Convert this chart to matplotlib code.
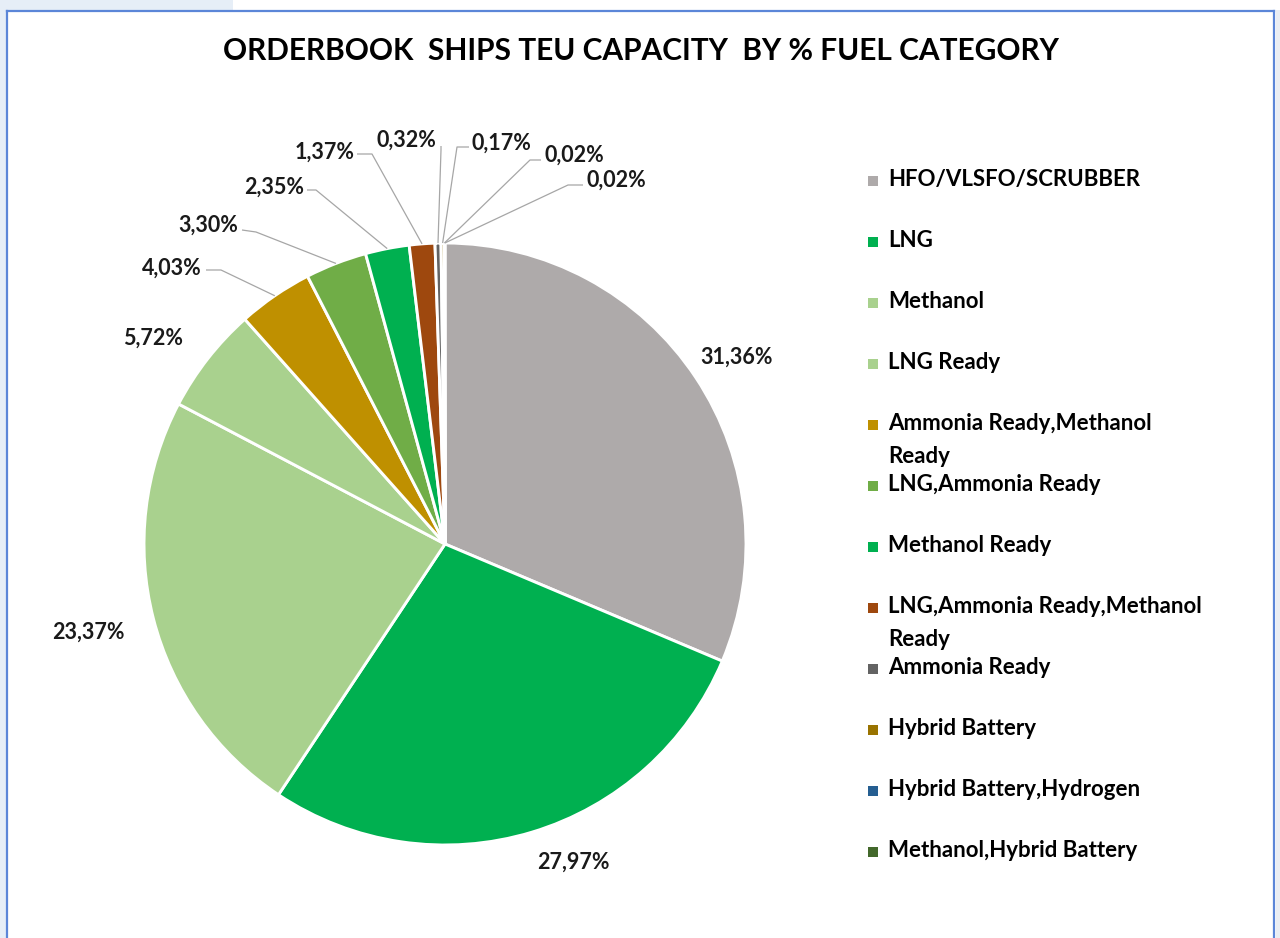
import matplotlib
matplotlib.use("Agg")
import matplotlib.pyplot as plt
from matplotlib.patches import Rectangle
import math

# ---------------- data ----------------
categories = [
    "HFO/VLSFO/SCRUBBER", "LNG", "Methanol", "LNG Ready",
    "Ammonia Ready,Methanol Ready", "LNG,Ammonia Ready", "Methanol Ready",
    "LNG,Ammonia Ready,Methanol Ready", "Ammonia Ready", "Hybrid Battery",
    "Hybrid Battery,Hydrogen", "Methanol,Hybrid Battery",
]
legend_labels = [
    "HFO/VLSFO/SCRUBBER", "LNG", "Methanol", "LNG Ready",
    "Ammonia Ready,Methanol\nReady", "LNG,Ammonia Ready", "Methanol Ready",
    "LNG,Ammonia Ready,Methanol\nReady", "Ammonia Ready", "Hybrid Battery",
    "Hybrid Battery,Hydrogen", "Methanol,Hybrid Battery",
]
shares = [31.36, 27.97, 23.37, 5.72, 4.03, 3.30, 2.35, 1.37, 0.32, 0.17, 0.02, 0.02]
colors = ["#AEAAAA", "#00B050", "#A9D18E", "#A9D18E", "#BF9000", "#70AD47",
          "#00B050", "#9E480E", "#636363", "#997300", "#255E91", "#43682B"]
title = "ORDERBOOK  SHIPS TEU CAPACITY  BY % FUEL CATEGORY"

# ---------------- layout (pixels) ----------------
W, H = 1280, 938
CX, CY, R = 445, 544, 301
label_pos = [(737, 357), (573, 862), (88, 632), (153, 338), (172, 268), (208, 225),
             (274, 187), (325, 152), (406, 140), (501, 143), (574, 155), (616, 180)]
leader_start = [None, None, None, None, (206, 270), (242, 230), (307, 190),
                (357, 154), (441, 146), (469, 147), (541, 160), (583, 185)]
leader_elbow = [None, None, None, None, (221, 270), (256, 232), (316, 190),
                (372, 154), (441, 150), (457, 147), (530, 160), (568, 185)]

FONT = "Lato"

fig = plt.figure(figsize=(W / 100, H / 100), dpi=100)
fig.patch.set_facecolor("white")

# background strips and chart frame
bg = "#E6EEF7"
fig.patches.append(Rectangle((0, 0), 6 / W, 1, transform=fig.transFigure,
                             facecolor=bg, edgecolor="none", zorder=0))
fig.patches.append(Rectangle((0, 1 - 10 / H), 233 / W, 10 / H, transform=fig.transFigure,
                             facecolor=bg, edgecolor="none", zorder=0))
fig.patches.append(Rectangle((1276 / W, 0), 4 / W, 1 - 10 / H, transform=fig.transFigure,
                             facecolor="#E9EDF3", edgecolor="none", zorder=0))
frame_col = "#5B86D8"
fig.add_artist(plt.Line2D([7 / W, 7 / W], [0, 1 - 11 / H], transform=fig.transFigure,
                          color=frame_col, lw=1.6))
fig.add_artist(plt.Line2D([7 / W, 1274 / W], [1 - 11 / H, 1 - 11 / H], transform=fig.transFigure,
                          color=frame_col, lw=1.6))
fig.add_artist(plt.Line2D([1274 / W, 1274 / W], [0, 1 - 11 / H], transform=fig.transFigure,
                          color=frame_col, lw=1.6))

ax = fig.add_axes([0, 0, 1, 1])
ax.patch.set_alpha(0)
wedges, _ = ax.pie(shares, colors=colors, startangle=90, counterclock=False, radius=1,
                   wedgeprops=dict(edgecolor="white", linewidth=2.1))
ax.set_xlim(-CX / R, (W - CX) / R)
ax.set_ylim(-(H - CY) / R, CY / R)
ax.axis("off")


def to_data(p):
    return (p[0] - CX) / R, (CY - p[1]) / R


for i, (w, v) in enumerate(zip(wedges, shares)):
    txt = f"{v:.2f}%".replace(".", ",")
    x, y = to_data(label_pos[i])
    ax.text(x, y, txt, ha="center", va="center", fontsize=15.5, fontweight="bold",
            family=FONT, color="#1a1a1a")
    if leader_start[i] is not None:
        ang = math.radians((w.theta1 + w.theta2) / 2)
        ex, ey = math.cos(ang), math.sin(ang)
        sx, sy = to_data(leader_start[i])
        bx, by = to_data(leader_elbow[i])
        ax.plot([sx, bx, ex], [sy, by, ey], color="#A6A6A6", lw=0.9, solid_capstyle="butt")

# title
fig.text(641 / W, 1 - 51 / H, title, ha="center", va="center", fontsize=21.5,
         fontweight="bold", family=FONT, color="black")

# legend (manual, Excel-like uniform pitch)
for i, (lab, c) in enumerate(zip(legend_labels, colors)):
    yc = 181 + i * 61.0
    fig.patches.append(Rectangle((868 / W, 1 - (yc + 5) / H), 10 / W, 10 / H,
                                 transform=fig.transFigure, facecolor=c, edgecolor="none"))
    fig.text(888 / W, 1 - (yc - 12) / H, lab, ha="left", va="top", fontsize=16,
             fontweight="bold", family=FONT, color="black", linespacing=1.7)

fig.savefig("out.png", dpi=100, facecolor="white")
